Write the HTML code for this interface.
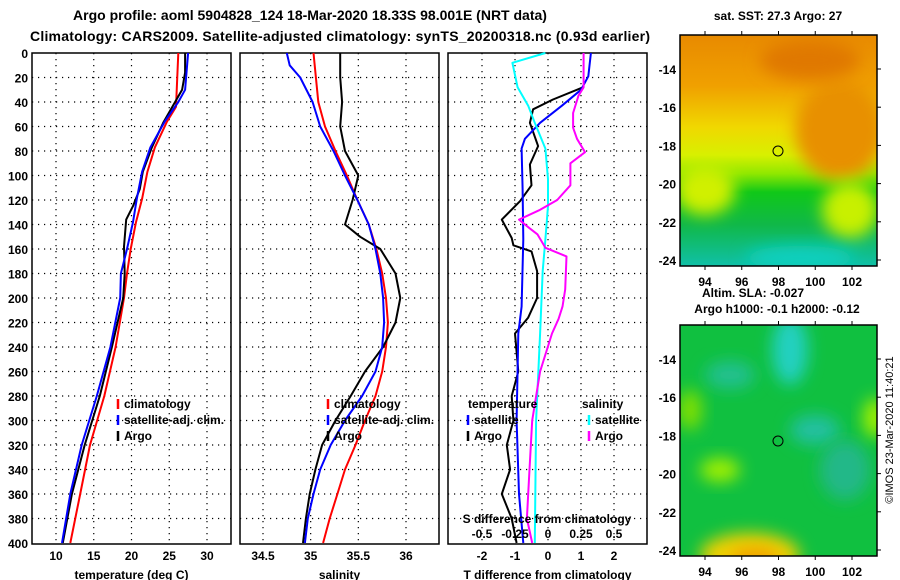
<!DOCTYPE html>
<html><head><meta charset="utf-8"><style>
html,body{margin:0;padding:0;background:#fff;}
svg{display:block;font-family:"Liberation Sans",Arial,sans-serif;font-weight:bold;}
</style></head><body>
<svg id="fig" width="900" height="580" viewBox="0 0 900 580" xmlns="http://www.w3.org/2000/svg">
<defs>
<filter id="blur6" x="-50%" y="-50%" width="200%" height="200%"><feGaussianBlur stdDeviation="8"/></filter>
<linearGradient id="sstg" x1="0" y1="0" x2="0" y2="1">
<stop offset="0" stop-color="#e88a00"/><stop offset="0.22" stop-color="#f0a000"/><stop offset="0.4" stop-color="#f0d800"/><stop offset="0.52" stop-color="#d8f000"/><stop offset="0.6" stop-color="#90e800"/><stop offset="0.68" stop-color="#10c818"/><stop offset="0.82" stop-color="#10b848"/><stop offset="1" stop-color="#10c0a8"/>
</linearGradient>
<clipPath id="c1"><rect x="680" y="35" width="197" height="231"/></clipPath>
<clipPath id="c2"><rect x="680" y="325" width="197" height="231"/></clipPath>
</defs>
<text x="310" y="20" font-size="14" text-anchor="middle">Argo profile: aoml 5904828_124 18-Mar-2020 18.33S 98.001E (NRT data)</text>
<text x="340" y="41" font-size="14" text-anchor="middle" textLength="620">Climatology: CARS2009. Satellite-adjusted climatology: synTS_20200318.nc (0.93d earlier)</text>

<g>
<g clip-path="url(#c1)">
<rect x="680" y="35" width="197" height="231" fill="url(#sstg)"/>
<ellipse cx="840" cy="130" rx="45" ry="50" fill="#e89000" filter="url(#blur6)"/>
<ellipse cx="810" cy="60" rx="50" ry="20" fill="#e07800" filter="url(#blur6)"/>
<ellipse cx="705" cy="190" rx="30" ry="25" fill="#d0f000" filter="url(#blur6)"/>
<ellipse cx="850" cy="210" rx="28" ry="28" fill="#c8f000" filter="url(#blur6)"/>
<ellipse cx="800" cy="258" rx="55" ry="12" fill="#10d0c0" filter="url(#blur6)"/>
</g>
<rect x="680" y="35" width="197" height="231" fill="none" stroke="#000" stroke-width="1.5"/>
<circle cx="778" cy="151" r="5" fill="none" stroke="#000"/>
<text x="778" y="20" font-size="12" text-anchor="middle">sat. SST: 27.3 Argo: 27</text>
</g>
<g>
<g clip-path="url(#c2)">
<rect x="680" y="325" width="197" height="231" fill="#10c040"/>
<ellipse cx="790" cy="350" rx="18" ry="35" fill="#20d0c0" filter="url(#blur6)"/>
<ellipse cx="730" cy="375" rx="25" ry="14" fill="#20c090" filter="url(#blur6)"/>
<ellipse cx="815" cy="430" rx="25" ry="15" fill="#20c0a0" filter="url(#blur6)"/>
<ellipse cx="845" cy="470" rx="25" ry="30" fill="#20b888" filter="url(#blur6)"/>
<ellipse cx="720" cy="470" rx="20" ry="12" fill="#a0f000" filter="url(#blur6)"/>
<ellipse cx="690" cy="410" rx="12" ry="20" fill="#80e000" filter="url(#blur6)"/>
<ellipse cx="875" cy="418" rx="12" ry="20" fill="#a0f000" filter="url(#blur6)"/>
<ellipse cx="750" cy="555" rx="50" ry="22" fill="#f0d000" filter="url(#blur6)"/>
<ellipse cx="755" cy="560" rx="25" ry="12" fill="#f0a000" filter="url(#blur6)"/>
</g>
<rect x="680" y="325" width="197" height="231" fill="none" stroke="#000" stroke-width="1.5"/>
<circle cx="778" cy="441" r="5" fill="none" stroke="#000"/>
<text x="753" y="297" font-size="12" text-anchor="middle">Altim. SLA: -0.027</text>
<text x="777" y="313" font-size="12" text-anchor="middle">Argo h1000: -0.1 h2000: -0.12</text>
</g>
<text transform="translate(893,430) rotate(-90)" font-size="11" font-weight="normal" text-anchor="middle">©IMOS 23-Mar-2020 11:40:21</text>
<g id="plots"></g>
</svg>
<script>
// ---- data ----
const tDepthClim = [0,44,56,77,97,119,138,160,180,200,240,280,320,360,400];
const tClim = [26.2,25.9,24.7,23.1,22.1,21.4,20.6,19.9,19.4,19.0,17.9,16.4,14.5,13.2,11.9];
const tDepthSat = [0,30,40,56,77,97,119,138,160,180,200,240,280,320,360,400];
const tSat = [27.5,27.1,26.2,24.4,22.5,21.4,20.7,20.2,19.4,18.6,18.5,17.2,15.4,13.4,11.9,10.8];
const tDepthArgo = [0,16,30,44,57,77,97,111,125,136,158,180,200,240,280,320,360,400];
const tArgo = [27.1,27.1,26.7,25.4,24.2,22.7,21.5,21.1,20.2,19.3,19.0,19.1,18.9,17.4,15.8,13.8,12.1,10.9];

const sDepthClim = [0,40,60,80,100,120,140,160,180,200,220,240,260,280,300,320,340,360,380,400];
const sClim = [35.03,35.08,35.15,35.26,35.38,35.49,35.61,35.69,35.75,35.79,35.81,35.79,35.75,35.68,35.57,35.47,35.36,35.28,35.2,35.13];
const sDepthSat = [0,10,20,40,60,80,100,120,140,160,180,200,220,240,260,280,300,320,340,360,380,400];
const sSat = [34.75,34.78,34.89,35.02,35.1,35.24,35.36,35.49,35.61,35.68,35.73,35.76,35.77,35.75,35.68,35.54,35.36,35.21,35.1,35.03,34.97,34.94];
const sDepthArgo = [0,20,40,60,80,100,120,140,150,160,180,200,220,240,260,280,300,320,340,360,380,400];
const sArgo = [35.31,35.31,35.33,35.31,35.36,35.5,35.44,35.36,35.52,35.73,35.89,35.94,35.89,35.76,35.57,35.42,35.26,35.12,35.05,34.99,34.95,34.92];

const dTDepthArgo = [28,38,46,57,76,91,108,121,136,151,157,162,178,200,216,229,260,280,300,320,340,360,380,400];
const dTArgo = [1.06,0.15,-0.45,-0.55,-0.3,-0.55,-0.5,-0.85,-1.4,-1.1,-1.05,-0.5,-0.33,-0.33,-0.6,-1.0,-0.9,-1.1,-1.05,-1.25,-1.15,-1.4,-1.1,-0.95];
const dTDepthSat = [0,19,30,43,57,70,78,111,152,207,229,300,360,400];
const dTSat = [1.3,1.22,1.0,0.42,-0.24,-0.7,-0.8,-0.77,-0.75,-0.8,-0.9,-0.95,-0.88,-0.75];
const dSDepthSat = [0,8,28,43,57,78,103,125,152,178,229,300,400];
const dSSat = [-0.02,-0.27,-0.23,-0.15,-0.1,-0.02,0,0,-0.02,-0.04,-0.06,-0.09,-0.1];
const dSDepthArgo = [0,28,35,49,61,70,81,90,108,120,128,136,143,148,159,166,193,207,217,229,260,300,340,380,400];
const dSArgo = [0.27,0.27,0.23,0.19,0.19,0.22,0.28,0.17,0.17,0.07,-0.06,-0.22,-0.14,-0.08,-0.02,0.14,0.13,0.11,0.08,0.03,-0.06,-0.12,-0.14,-0.16,-0.12];

const depthTicks = [0,20,40,60,80,100,120,140,160,180,200,220,240,260,280,300,320,340,360,380,400];
const tTicks = [10,15,20,25,30];
const sTicks = [34.5,35,35.5,36];
const dTTicks = [-2,-1,0,1,2];
const dSTicks = [-0.5,-0.25,0,0.25,0.5];
const dSTickLabels = ["-0.5","-0.25","0","0.25","0.5"];
const latTicks = [-14,-16,-18,-20,-22,-24];
const lonTicks = [94,96,98,100,102];

const NS="http://www.w3.org/2000/svg";
const root=document.getElementById('plots');
function el(tag,attrs,parent){const e=document.createElementNS(NS,tag);for(const k in attrs)e.setAttribute(k,attrs[k]);(parent||root).appendChild(e);return e;}
function txt(s,x,y,anchor,size,parent){const t=el('text',{x:x,y:y,'text-anchor':anchor,'font-size':size},parent);t.textContent=s;return t;}

const Y0=53,Y1=543;
const yD=d=>Y0+(Y1-Y0)*d/400;
function lin(d0,d1,r0,r1){return v=>r0+(v-d0)*(r1-r0)/(d1-d0);}
const xT=lin(10,30,56,207);
const xS=lin(34.5,36,263,406);
const xdT=lin(-1,1,515,581);
const xdS=lin(-0.5,0.5,482,614);

function panel(name,x0,x1,xTickVals,xf,xLabels,title){
  const g=el('g',{});
  
  
  depthTicks.forEach(d=>{
    if(d>0&&d<400){el('line',{x1:x0,x2:x1,y1:yD(d),y2:yD(d),stroke:'#000','stroke-dasharray':'1.2 4.8','stroke-width':1.2},g);}
  });
  xTickVals.forEach((v,i)=>{
    const x=xf(v);
    el('line',{x1:x,x2:x,y1:Y0,y2:Y1,stroke:'#000','stroke-dasharray':'1.2 4.8','stroke-width':1.2},g);
    if(xLabels){const t=txt(xLabels[i],x,560,'middle',12,g);
    
    }
  });
  const fr=el('rect',{x:x0,y:Y0,width:x1-x0,height:Y1-Y0+1,fill:'none',stroke:'#000','stroke-width':1.5},g);
  
  
  const tt=txt(title,(x0+x1)/2,579,'middle',12,g);
  
  
  return g;
}
function series(name,depths,vals,xf,color,g){
  const pts=depths.map((d,i)=>xf(vals[i]).toFixed(1)+','+yD(d).toFixed(1)).join(' ');
  const p=el('polyline',{points:pts,fill:'none',stroke:color,'stroke-width':2,'stroke-linejoin':'round'},g);
  
  
}
function legend(items,x,y,g){
  items.forEach((it,i)=>{
    const yy=y+i*16;
    if(it[1]){const m=el('line',{x1:x,x2:x,y1:yy-9,y2:yy+1,stroke:it[1],'stroke-width':2.5},g);
    
    }
    const t=txt(it[0],x+(it[1]?6:0),yy,'start',12,g);
    
    
  });
}

depthTicks.forEach(d=>{const t=txt(String(d),28,yD(d)+5,'end',12);

});

const g1=panel('temperature-panel',32,231,tTicks,xT,tTicks.map(String),'temperature (deg C)');
series('temp-climatology',tDepthClim,tClim,xT,'#ff0000',g1);
series('temp-argo',tDepthArgo,tArgo,xT,'#000000',g1);
series('temp-satellite-adj',tDepthSat,tSat,xT,'#0000ff',g1);
legend([['climatology','#ff0000'],['satellite-adj. clim.','#0000ff'],['Argo','#000']],118,408,g1);

const g2=panel('salinity-panel',240,439,sTicks,xS,sTicks.map(String),'salinity');
series('sal-climatology',sDepthClim,sClim,xS,'#ff0000',g2);
series('sal-argo',sDepthArgo,sArgo,xS,'#000000',g2);
series('sal-satellite-adj',sDepthSat,sSat,xS,'#0000ff',g2);
legend([['climatology','#ff0000'],['satellite-adj. clim.','#0000ff'],['Argo','#000']],328,408,g2);

const g3=panel('difference-panel',448,647,dTTicks,xdT,dTTicks.map(String),'T difference from climatology');
series('dT-argo',dTDepthArgo,dTArgo,xdT,'#000000',g3);
series('dT-satellite',dTDepthSat,dTSat,xdT,'#0000ff',g3);
series('dS-satellite',dSDepthSat,dSSat,xdS,'#00ffff',g3);
series('dS-argo',dSDepthArgo,dSArgo,xdS,'#ff00ff',g3);
legend([['temperature',null],['satellite','#0000ff'],['Argo','#000']],468,408,g3);
legend([['salinity',null]],582,408,g3);
legend([['satellite','#00ffff'],['Argo','#ff00ff']],589,424,g3);
{const t=txt('S difference from climatology',547,523,'middle',12,g3);

}
dSTicks.forEach((v,i)=>{const t=txt(dSTickLabels[i],xdS(v),538,'middle',12,g3);

});

function mapAxes(top,bottom,labelY,topTicks){
  const latY=lin(-14,-24,top+34,top+225);
  latTicks.forEach(v=>{
    const y=latY(v);
    const t=txt(String(v),676,y+5,'end',12);
    
    
    el('line',{x1:877,x2:881,y1:y,y2:y,stroke:'#000'});
  });
  lonTicks.forEach(v=>{
    const x=lin(94,102,705,852)(v);
    const t=txt(String(v),x,labelY,'middle',12);
    
    
    el('line',{x1:x,x2:x,y1:bottom,y2:bottom+4,stroke:'#000'});
    if(topTicks) el('line',{x1:x,x2:x,y1:top-4,y2:top,stroke:'#000'});
  });
}
mapAxes(35,266,286,true);
mapAxes(325,556,576,true);
</script>
</body></html>
